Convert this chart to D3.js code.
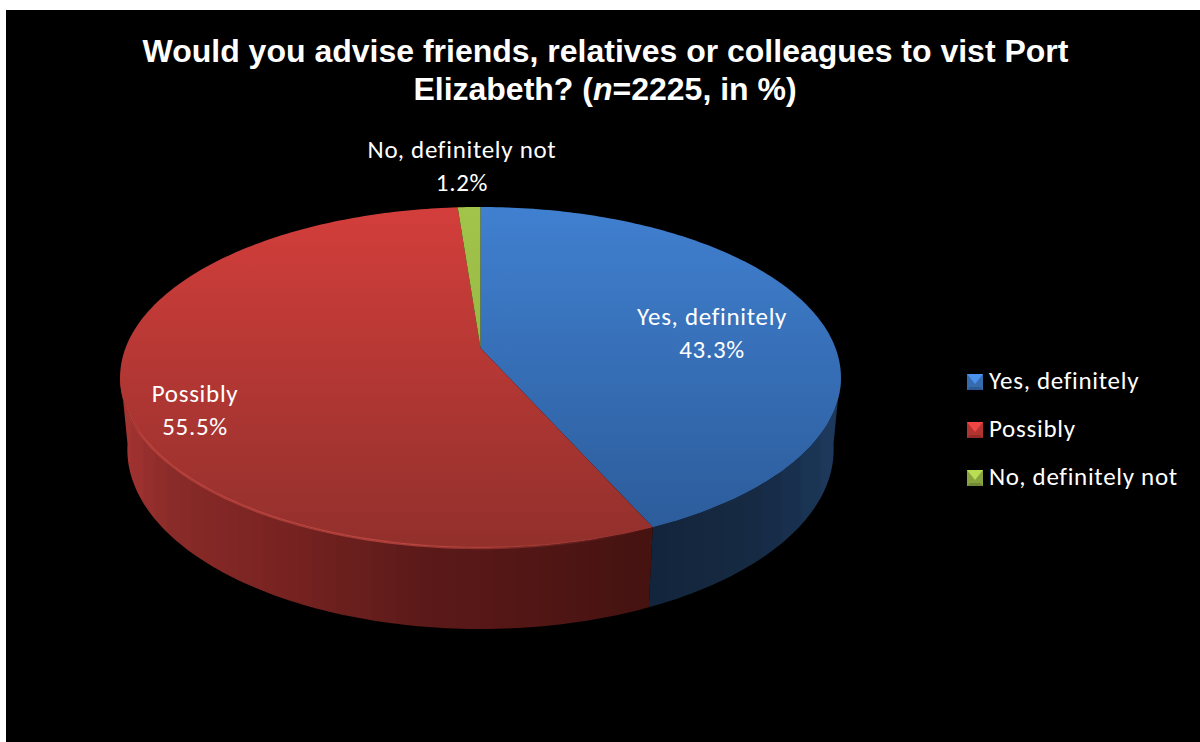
<!DOCTYPE html>
<html>
<head>
<meta charset="utf-8">
<script src="https://cdn.jsdelivr.net/npm/d3@7"></script>
<style>
html,body{margin:0;padding:0;background:#fff;overflow:hidden}
svg{display:block}
text{fill:#fff}
</style>
</head>
<body>
<svg id="chart" width="1200" height="742"></svg>
<script>
// Survey answers, in percent
const categories = ["Yes, definitely", "Possibly", "No, definitely not"];
const shares = [43.3, 55.5, 1.2];
const titleLines = ["Would you advise friends, relatives or colleagues to vist Port", "Elizabeth? ("];
const titleTail = ["n", "=2225, in %)"];

// Face colours: [upper, lower] of the top face
const topRamp = [["#4080d0", "#2b5a98"], ["#d33e3b", "#92302c"], ["#a2c44a", "#8aa83c"]];
// Rim shading by screen position
const blueRimX = [648, 760, 800, 842];
const blueRimColour = ["#13243b", "#162a43", "#183150", "#1e3a5e"];
const redRimX = [120, 170, 270, 350, 420, 500, 650];
const redRimColour = ["#a63532", "#8a2b29", "#7a2422", "#6a1f1d", "#5c1a19", "#551716", "#451311"];
const labelAnchors = [[712, 333], [195, 410], [462, 166]];

const svg = d3.select("#chart");
const defs = svg.append("defs");

svg.append("rect").attr("x", 6).attr("y", 10).attr("width", 1194).attr("height", 732).attr("fill", "#000");

// Perspective view of a disc of unit radius: u runs to the right, v towards the viewer, h downwards
const view = {cx: 480.5, cy: 348, a: 355, b: 165.4, c: 72.6, k: 0.173, m: 0.02};
function project(angle, h) {
  const u = Math.sin(angle), v = -Math.cos(angle);
  const w = 1 - view.k * v + view.m * h;
  return [view.cx + view.a * u / w, view.cy + (view.b * v + view.c * h) / w];
}

const pie = d3.pie().sort(null).value(d => d);
const arcs = pie(shares);
const line = d3.line();
const degree = Math.PI / 180;
const samples = (a0, a1) => {
  const n = Math.max(2, Math.ceil((a1 - a0) / degree));
  return d3.range(n + 1).map(i => a0 + (a1 - a0) * i / n);
};

// Horizontal gradient in short flat bands, which gives the rim its faceted look
function bandedGradient(id, xs, colours, bands) {
  const shade = d3.scaleLinear().domain(xs).range(colours);
  const x0 = xs[0], x1 = xs[xs.length - 1];
  const grad = defs.append("linearGradient").attr("id", id)
    .attr("gradientUnits", "userSpaceOnUse").attr("x1", x0).attr("x2", x1).attr("y1", 0).attr("y2", 0);
  d3.range(bands).forEach(i => {
    const f0 = i / bands, f1 = (i + 0.8) / bands;
    const col = shade(x0 + (x1 - x0) * (i + 0.5) / bands);
    grad.append("stop").attr("offset", f0).attr("stop-color", col);
    grad.append("stop").attr("offset", f1).attr("stop-color", col);
  });
}
bandedGradient("rim0", blueRimX, blueRimColour, 10);
bandedGradient("rim1", redRimX, redRimColour, 44);

// The two rim walls that face the viewer, from slice boundary to the silhouette tangent
function wall(a0, a1, fill) {
  const range = samples(a0, a1);
  const outline = [...range.map(a => project(a, 0)), ...range.slice().reverse().map(a => project(a, 1))];
  svg.append("path").attr("d", line(outline) + "Z").attr("fill", fill);
}
wall(98 * degree, arcs[0].endAngle, "url(#rim0)");
wall(arcs[1].startAngle, 262 * degree, "url(#rim1)");

// Top face of each slice with its vertical shading
arcs.forEach((d, i) => {
  const grad = defs.append("linearGradient").attr("id", "top" + i)
    .attr("gradientUnits", "userSpaceOnUse").attr("x1", 0).attr("x2", 0).attr("y1", 207).attr("y2", 548);
  grad.append("stop").attr("offset", 0).attr("stop-color", topRamp[i][0]);
  grad.append("stop").attr("offset", 1).attr("stop-color", topRamp[i][1]);
  const rim = samples(d.startAngle, d.endAngle).map(a => project(a, 0));
  svg.append("path").attr("d", line([[view.cx, view.cy], ...rim]) + "Z").attr("fill", `url(#top${i})`);
});

// Soft lighter bevel along the near left edge of the red slice, fading out at both ends
const bevel = defs.append("linearGradient").attr("id", "bevel")
  .attr("gradientUnits", "userSpaceOnUse").attr("x1", 120).attr("x2", 640).attr("y1", 0).attr("y2", 0);
[[0, 0], [0.05, 0.45], [0.55, 0.55], [0.8, 0.25], [1, 0]].forEach(([o, a]) =>
  bevel.append("stop").attr("offset", o).attr("stop-color", "#e0574f").attr("stop-opacity", a));
defs.append("filter").attr("id", "soft").attr("x", "-5%").attr("y", "-5%").attr("width", "110%").attr("height", "110%")
  .append("feGaussianBlur").attr("stdDeviation", 0.7);
const nearRed = samples(arcs[1].startAngle, 262 * degree).map(a => project(a, 0));
svg.append("path").attr("d", line(nearRed)).attr("fill", "none")
  .attr("stroke", "url(#bevel)").attr("stroke-width", 2.4).attr("filter", "url(#soft)");

// Title
const title = svg.append("g").attr("font-family", "Liberation Sans, Arial, sans-serif").attr("font-weight", 700).attr("font-size", 32).attr("text-anchor", "middle");
title.append("text").attr("x", 605.5).attr("y", 62).text(titleLines[0]);
const second = title.append("text").attr("x", 605).attr("y", 100);
second.append("tspan").text(titleLines[1]);
second.append("tspan").attr("font-style", "italic").text(titleTail[0]);
second.append("tspan").text(titleTail[1]);

// Data labels
const labelFont = "Carlito, Calibri, Lato, sans-serif";
arcs.forEach((d, i) => {
  const [x, y] = labelAnchors[i];
  const t = svg.append("text").attr("font-family", labelFont).attr("font-size", 25)
    .attr("letter-spacing", 0.7).attr("text-anchor", "middle");
  t.append("tspan").attr("x", x).attr("y", y - 8).text(categories[i]);
  t.append("tspan").attr("x", x).attr("y", y + 25).text(d3.format(".1f")(d.data) + "%");
});

// Legend
const legendY = d3.scalePoint().domain(categories).range([382, 478]);
const legend = svg.append("g");
categories.forEach((name, i) => {
  const y = legendY(name), s = 8, x = 975;
  const g = legend.append("g").attr("transform", `translate(${x},${y})`);
  const c = d3.color(topRamp[i][0]);
  g.append("rect").attr("x", -s).attr("y", -s).attr("width", 2 * s).attr("height", 2 * s).attr("fill", c.darker(0.5));
  g.append("path").attr("d", line([[-s, -s], [s, -s], [0, 2]]) + "Z").attr("fill", c.brighter(0.35));
  g.append("path").attr("d", line([[-s, s], [s, s], [s - 3, s - 3], [3 - s, s - 3]]) + "Z").attr("fill", c.darker(1));
  g.append("text").attr("x", 14).attr("y", 7).attr("font-family", labelFont).attr("font-size", 25)
    .attr("letter-spacing", 0.7).text(name);
});
</script>
</body>
</html>
